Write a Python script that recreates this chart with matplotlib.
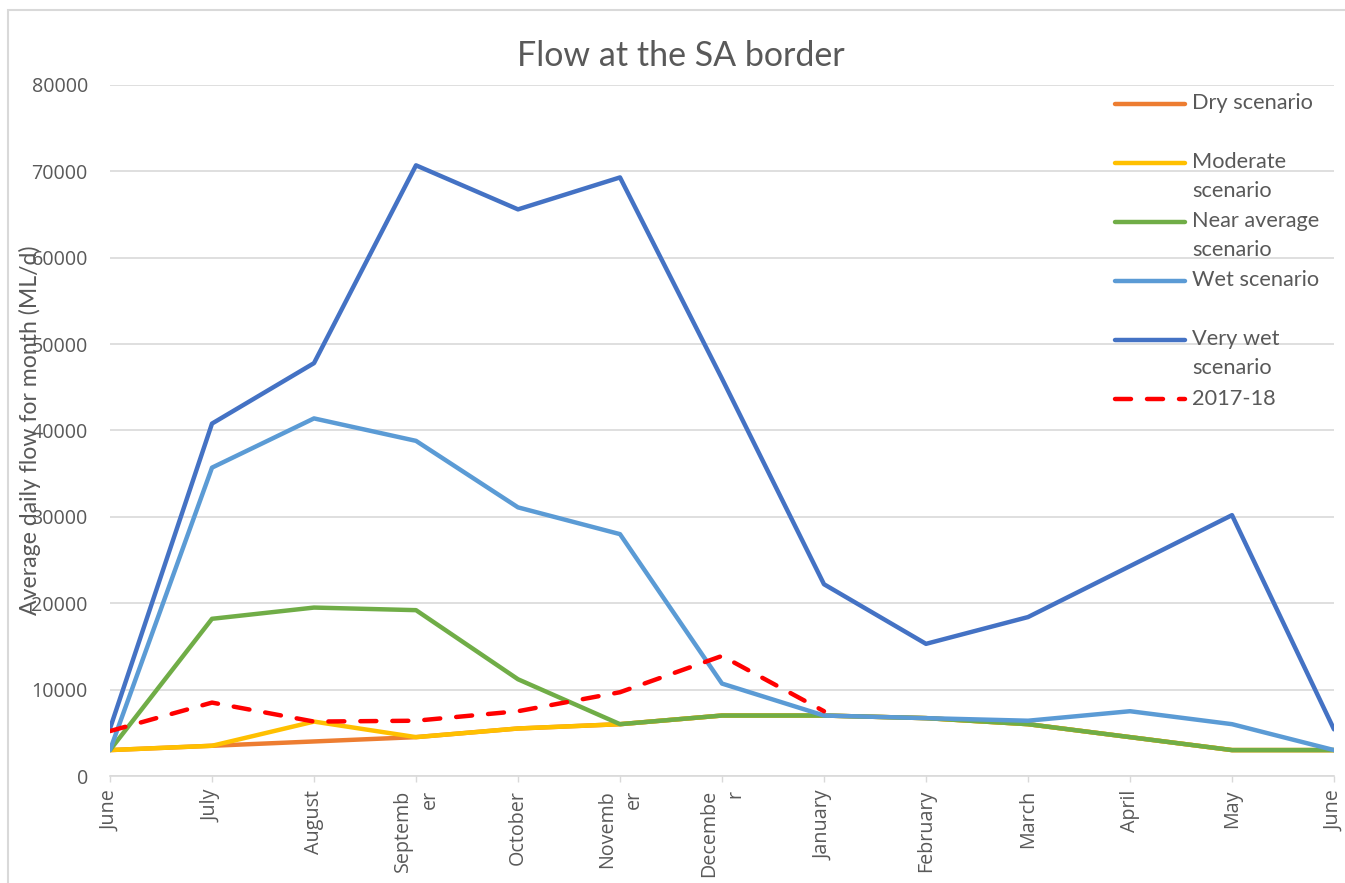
import matplotlib
matplotlib.use("Agg")
import matplotlib.pyplot as plt
from matplotlib.patches import Rectangle

months = ["June", "July", "August", "Septemb\ner", "October", "Novemb\ner",
          "Decembe\nr", "January", "February", "March", "April", "May", "June"]

dry = [3000, 3500, 4000, 4500, 5500, 6000, 7000, 7000, 6700, 6000, 4500, 3000, 3000]
moderate = [3000, 3500, 6300, 4500, 5500, 6000, 7000, 7000, 6700, 6000, 4500, 3000, 3000]
near_average = [3000, 18200, 19500, 19200, 11200, 6000, 7000, 7000, 6700, 6000, 4500, 3000, 3000]
wet = [3000, 35700, 41400, 38800, 31100, 28000, 10700, 7000, 6700, 6400, 7500, 6000, 3000]
very_wet = [5500, 40800, 47800, 70700, 65600, 69300, 46000, 22200, 15300, 18400, 24300, 30200, 5400]
flow_2017_18 = [5200, 8500, 6300, 6400, 7500, 9700, 13900, 7500]

series_labels = ["Dry scenario", "Moderate\nscenario", "Near average\nscenario",
                 "Wet scenario", "Very wet\nscenario", "2017-18"]
colors = ["#ED7D31", "#FFC000", "#70AD47", "#5B9BD5", "#4472C4", "#FF0000"]

title = "Flow at the SA border"
ylabel = "Average daily flow for month (ML/d)"
yticks = [0, 10000, 20000, 30000, 40000, 50000, 60000, 70000, 80000]

FONT_T = "Lato"
FONT_A = "Open Sans"
TXT = "#595959"
GRID = "#D9D9D9"

W, H = 1345, 883
fig = plt.figure(figsize=(W / 100, H / 100), dpi=100)
fig.patches.append(Rectangle((8 / W, -0.1), 1.2, 1.1 - 10 / H, transform=fig.transFigure,
                             fill=False, edgecolor=GRID, linewidth=1.5))

ax = fig.add_axes([110 / W, 1 - 776 / H, 1224 / W, (776 - 85) / H])
x = list(range(len(months)))

all_series = [dry, moderate, near_average, wet, very_wet]
handles = []
for vals, lab, col in zip(all_series, series_labels[:5], colors[:5]):
    h, = ax.plot(x[:len(vals)], vals, color=col, lw=3.2, solid_joinstyle="round",
                 solid_capstyle="round", label=lab, zorder=3)
    handles.append(h)
h, = ax.plot(x[:len(flow_2017_18)], flow_2017_18, color=colors[5], lw=3.2,
             dashes=(3.6, 3.6), dash_capstyle="round", label=series_labels[5], zorder=3)
handles.append(h)

ax.set_xlim(0, len(months) - 1)
ax.set_ylim(0, 80000)
ax.set_yticks(yticks)
ax.set_yticklabels([str(v) for v in yticks], fontname=FONT_A, fontsize=14.2, color=TXT)
ax.set_xticks(x)
ax.set_xticklabels(months, rotation=90, ha="center", va="top", multialignment="right",
                   fontname=FONT_A, fontsize=14.2, color=TXT, linespacing=1.45)
ax.tick_params(axis="y", length=0, pad=16)
ax.tick_params(axis="x", length=4, width=1, color=GRID, pad=6)
ax.grid(axis="y", color=GRID, lw=1.2, zorder=0)
for s in ["top", "right", "left"]:
    ax.spines[s].set_visible(False)
ax.spines["bottom"].set_color(GRID)
ax.spines["bottom"].set_linewidth(1.2)
ax.spines["bottom"].set_zorder(1)

fig.text(681 / W, 1 - 56 / H, title, fontname=FONT_T, fontsize=24.5, color=TXT,
         ha="center", va="center")
ax.set_ylabel(ylabel, fontname=FONT_T, fontsize=16.6, color=TXT)
ax.yaxis.set_label_coords(-0.056, 0.5)

# legend: handle aligned with first line of each label
leg_labels = []
for lab in series_labels:
    if "\n" in lab:
        leg_labels.append("\n" + lab)
    else:
        leg_labels.append("\n" + lab + "\n")
leg = ax.legend(handles, leg_labels, loc="upper left", bbox_to_anchor=(0.814, 1.042),
                frameon=False, prop={"family": FONT_T, "size": 15.7}, labelspacing=-0.82,
                handlelength=3.2, handletextpad=0.32, borderaxespad=0)
for t in leg.get_texts():
    t.set_color(TXT)
    t.set_linespacing(1.53)

fig.savefig("out.png", dpi=100)
